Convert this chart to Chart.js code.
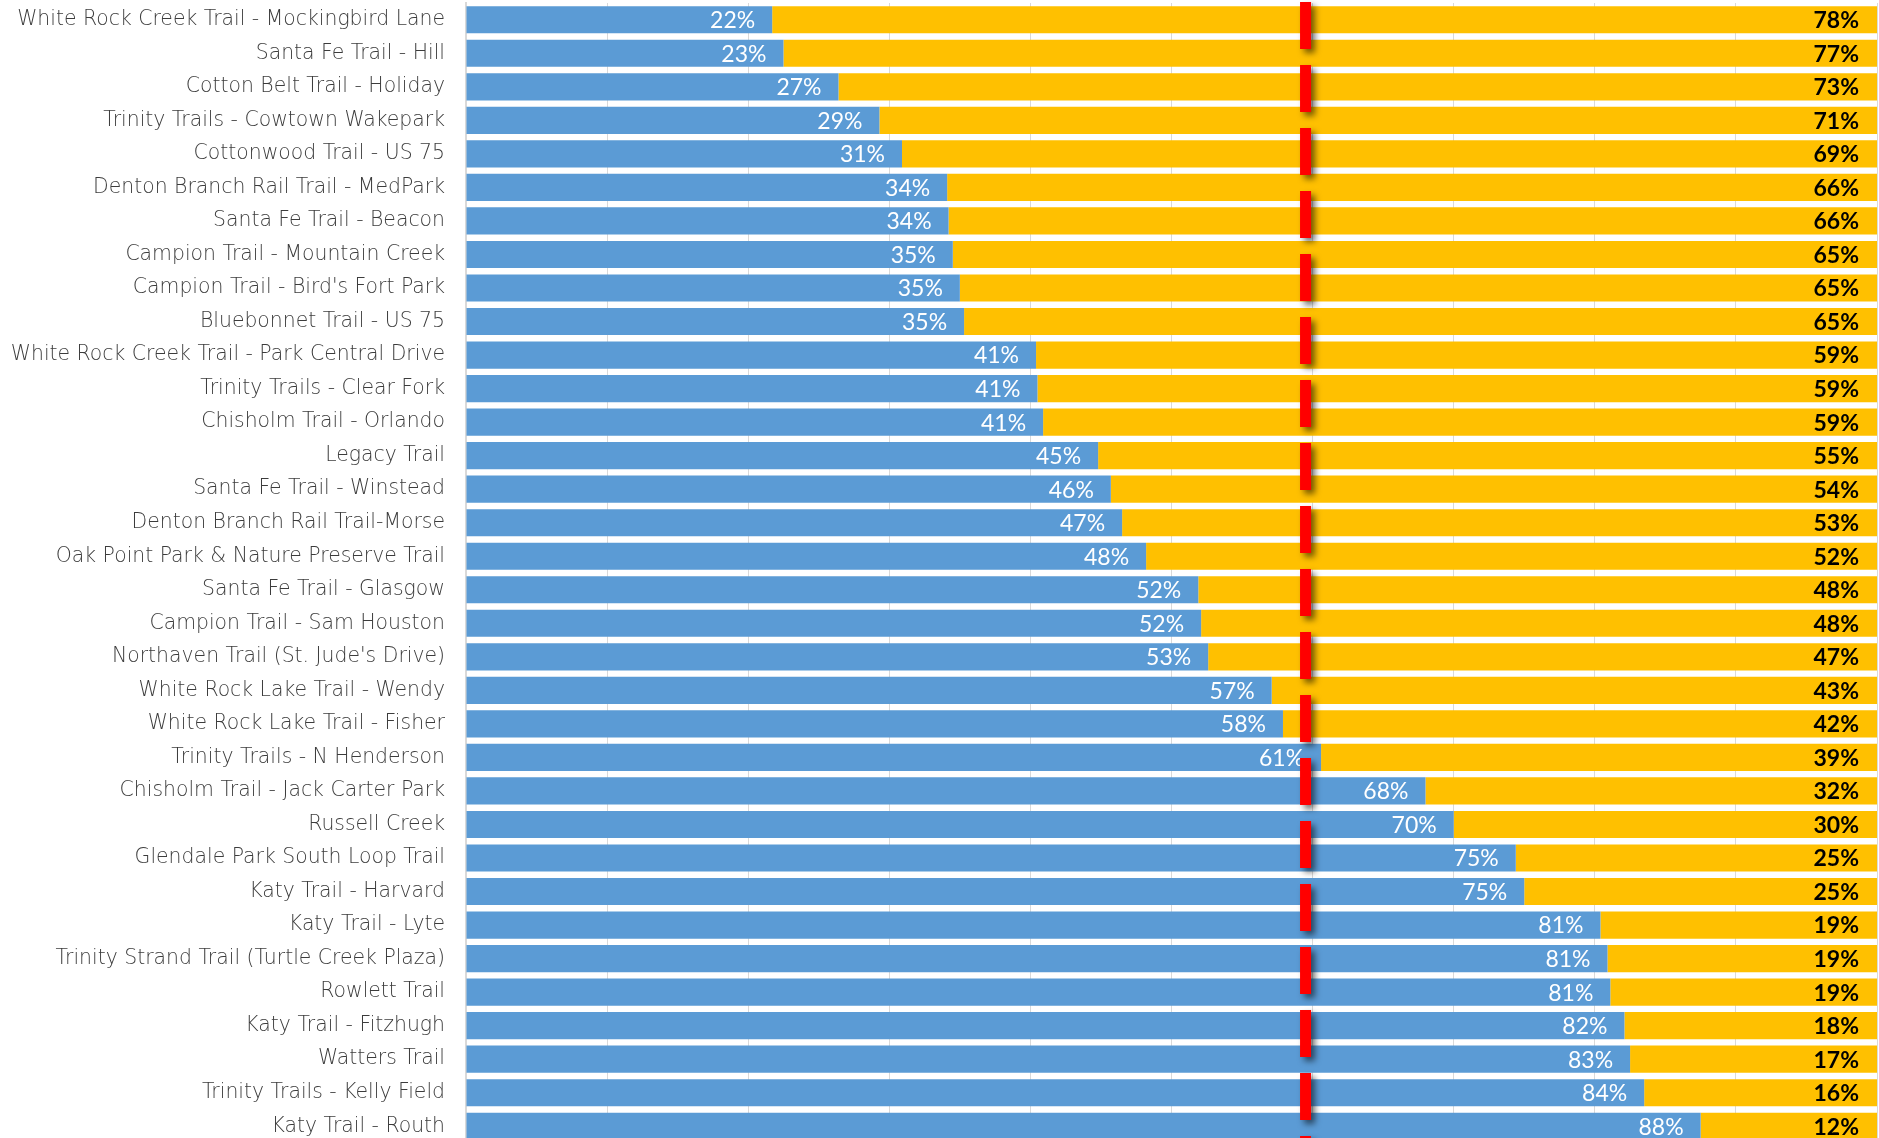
<!DOCTYPE html>
<html>
<head>
<meta charset="utf-8">
<script src="https://cdn.jsdelivr.net/npm/chart.js@4/dist/chart.umd.min.js"></script>
<style>
  html, body { margin: 0; padding: 0; background: #fff; overflow: hidden; }
  #wrap { width: 1879px; height: 1138px; overflow: hidden; }
</style>
</head>
<body>
<div id="wrap"><canvas id="chart" width="1879" height="1146"></canvas></div>
<script>
const trails = [
    "White Rock Creek Trail - Mockingbird Lane",
    "Santa Fe Trail - Hill",
    "Cotton Belt Trail - Holiday",
    "Trinity Trails - Cowtown Wakepark",
    "Cottonwood Trail - US 75",
    "Denton Branch Rail Trail - MedPark",
    "Santa Fe Trail - Beacon",
    "Campion Trail - Mountain Creek",
    "Campion Trail - Bird's Fort Park",
    "Bluebonnet Trail - US 75",
    "White Rock Creek Trail - Park Central Drive",
    "Trinity Trails - Clear Fork",
    "Chisholm Trail - Orlando",
    "Legacy Trail",
    "Santa Fe Trail - Winstead",
    "Denton Branch Rail Trail-Morse",
    "Oak Point Park & Nature Preserve Trail",
    "Santa Fe Trail - Glasgow",
    "Campion Trail - Sam Houston",
    "Northaven Trail (St. Jude's Drive)",
    "White Rock Lake Trail - Wendy",
    "White Rock Lake Trail - Fisher",
    "Trinity Trails - N Henderson",
    "Chisholm Trail - Jack Carter Park",
    "Russell Creek",
    "Glendale Park South Loop Trail",
    "Katy Trail - Harvard",
    "Katy Trail - Lyte",
    "Trinity Strand Trail (Turtle Creek Plaza)",
    "Rowlett Trail",
    "Katy Trail - Fitzhugh",
    "Watters Trail",
    "Trinity Trails - Kelly Field",
    "Katy Trail - Routh"
];

// bar lengths (percent)
const blueShare = [21.7, 22.5, 26.4, 29.3, 30.9, 34.1, 34.2, 34.5, 35.0, 35.3,
    40.4, 40.5, 40.9, 44.8, 45.7, 46.5, 48.2, 51.9, 52.1, 52.6,
    57.1, 57.9, 60.6, 68.0, 70.0, 74.4, 75.0, 80.4, 80.9, 81.1,
    82.1, 82.5, 83.5, 87.5];
const yellowShare = [78.3, 77.5, 73.6, 70.7, 69.1, 65.9, 65.8, 65.5, 65.0, 64.7,
    59.6, 59.5, 59.1, 55.2, 54.3, 53.5, 51.8, 48.1, 47.9, 47.4,
    42.9, 42.1, 39.4, 32.0, 30.0, 25.6, 25.0, 19.6, 19.1, 18.9,
    17.9, 17.5, 16.5, 12.5];

// printed labels
const blueLabels = [22, 23, 27, 29, 31, 34, 34, 35, 35, 35, 41, 41, 41, 45, 46, 47, 48,
    52, 52, 53, 57, 58, 61, 68, 70, 75, 75, 81, 81, 81, 82, 83, 84, 88];
const yellowLabels = [78, 77, 73, 71, 69, 66, 66, 65, 65, 65, 59, 59, 59, 55, 54, 53, 52,
    48, 48, 47, 43, 42, 39, 32, 30, 25, 25, 19, 19, 19, 18, 17, 16, 12];

const xTicks = [0, 10, 20, 30, 40, 50, 60, 70, 80, 90, 100];
const markerValue = 59.5;

const valueLabels = {
    id: "valueLabels",
    afterDatasetsDraw(chart) {
        const ctx = chart.ctx;
        ctx.save();
        ctx.textBaseline = "middle";
        ctx.textAlign = "right";
        const blueMeta = chart.getDatasetMeta(0);
        blueMeta.data.forEach((bar, i) => {
            ctx.font = "23px Lato";
            ctx.fillStyle = "#ffffff";
            ctx.fillText(blueLabels[i] + "%", bar.x - 17, bar.y + 1);
        });
        const yellowMeta = chart.getDatasetMeta(1);
        yellowMeta.data.forEach((bar, i) => {
            ctx.font = "bold 23px Lato";
            ctx.fillStyle = "#000000";
            ctx.fillText(yellowLabels[i] + "%", bar.x - 18, bar.y + 1);
        });
        ctx.restore();
    }
};

const markerLine = {
    id: "markerLine",
    afterDraw(chart) {
        const ctx = chart.ctx;
        const x = chart.scales.x.getPixelForValue(markerValue);
        ctx.save();
        ctx.strokeStyle = "#ff0000";
        ctx.lineWidth = 11;
        ctx.setLineDash([47, 16]);
        ctx.shadowColor = "rgba(0,0,0,0.55)";
        ctx.shadowBlur = 6;
        ctx.shadowOffsetX = 4;
        ctx.shadowOffsetY = 4;
        ctx.beginPath();
        ctx.moveTo(x, 2);
        ctx.lineTo(x, chart.height);
        ctx.stroke();
        ctx.restore();
    }
};

new Chart(document.getElementById("chart"), {
    type: "bar",
    data: {
        labels: trails,
        datasets: [
            {
                label: "Blue",
                data: blueShare,
                backgroundColor: "#5b9bd5",
                barPercentage: 0.81,
                categoryPercentage: 1.0
            },
            {
                label: "Yellow",
                data: yellowShare,
                backgroundColor: "#ffc000",
                barPercentage: 0.81,
                categoryPercentage: 1.0
            }
        ]
    },
    options: {
        indexAxis: "y",
        responsive: false,
        animation: false,
        devicePixelRatio: 1,
        layout: { padding: { top: 3, bottom: 3, right: 2, left: 0 } },
        plugins: {
            legend: { display: false },
            tooltip: { enabled: false }
        },
        scales: {
            x: {
                stacked: true,
                min: 0,
                max: 100,
                afterBuildTicks: (scale) => {
                    scale.ticks = xTicks.map((v) => ({ value: v }));
                },
                ticks: { display: false },
                grid: { color: "#d9d9d9", lineWidth: 1, drawTicks: false },
                border: { display: false },
                afterFit: (scale) => {
                    scale.height = 0;
                    scale.paddingLeft = 0;
                    scale.paddingRight = 0;
                }
            },
            y: {
                stacked: true,
                afterFit: (scale) => {
                    scale.width = 466;
                    scale.paddingTop = 0;
                    scale.paddingBottom = 0;
                },
                ticks: {
                    padding: 21,
                    color: "#3c3c3c",
                    font: { family: "DejaVu Sans", size: 20.4, weight: "200" }
                },
                grid: { display: false, drawTicks: false },
                border: { display: true, color: "#d9d9d9", width: 2 }
            }
        }
    },
    plugins: [valueLabels, markerLine]
});
</script>
</body>
</html>
